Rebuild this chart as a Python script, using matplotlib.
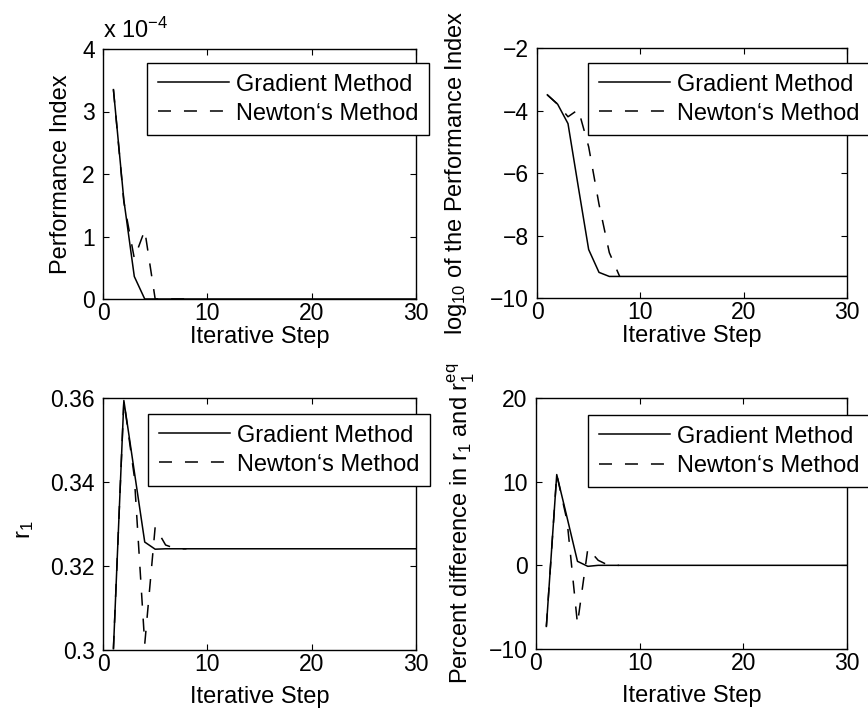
#!/usr/bin/env python3
"""Convergence of gradient and Newton iterations for the r1 estimate."""
import matplotlib
matplotlib.use("Agg")
import matplotlib.pyplot as plt
from matplotlib.ticker import FuncFormatter

plt.rcParams['font.family'] = ['Liberation Sans', 'DejaVu Sans']
plt.rcParams['mathtext.fontset'] = 'custom'
plt.rcParams['mathtext.rm'] = 'Liberation Sans'
plt.rcParams['mathtext.it'] = 'Liberation Sans'

# ── iteration history ───────────────────────────────────────────────────
steps_grad = list(range(1, 31))
steps_newton = list(range(1, 9))

perf_grad = [3.35e-4, 1.58e-4, 0.36e-4, 0.0] + [0.0] * 26
perf_newton = [3.35e-4, 1.55e-4, 0.65e-4, 1.10e-4, 0.0, 0.0, 0.0, 0.0]

logperf_grad = [-3.50, -3.80, -4.42, -6.45, -8.45, -9.18, -9.31] + [-9.31] * 23
logperf_newton = [-3.50, -3.80, -4.20, -3.97, -5.16, -7.00, -8.55, -9.31]

r1_grad = [0.3003, 0.3594, 0.3425, 0.3257, 0.3240] + [0.3241] * 25
r1_newton = [0.3003, 0.3594, 0.3413, 0.3014, 0.3293, 0.3250, 0.3241, 0.3241]

pct_grad = [-7.3, 10.85, 5.7, 0.48, -0.12] + [0.0] * 25
pct_newton = [-7.3, 10.85, 5.3, -7.0, 2.0, 0.6, 0.0, 0.0]

LABELS = ["Gradient Method", "Newton\u2018s Method"]
FS = 17
TICK_FS = 16.5


def style_axis(ax, ylim, yticks, xlab_y):
    ax.set_xlim(0, 30)
    ax.set_ylim(*ylim)
    ax.set_xticks([0, 10, 20, 30])
    ax.set_yticks(yticks)
    ax.tick_params(direction='in', top=True, right=True, length=4,
                   width=0.8, labelsize=TICK_FS)
    ax.tick_params(axis='x', pad=2)
    ax.tick_params(axis='y', pad=6)
    for s in ax.spines.values():
        s.set_linewidth(1.0)
        s.set_color('black')
    ax.set_xlabel("Iterative Step", fontsize=FS)
    ax.xaxis.set_label_coords(0.5, xlab_y)


def draw(ax, xg, yg, xn, yn, anchor):
    ax.plot(xg, yg, color='black', lw=1.1, ls='-', label=LABELS[0])
    ax.plot(xn, yn, color='black', lw=1.1, ls=(0, (8.5, 8.5)), label=LABELS[1])
    leg = ax.legend(loc='upper right', bbox_to_anchor=anchor, fontsize=FS,
                    fancybox=False, framealpha=1, edgecolor='black',
                    handlelength=3.0, handletextpad=0.3, borderpad=0.45,
                    labelspacing=0.3, borderaxespad=0)
    leg.get_frame().set_linewidth(1.0)


fig = plt.figure(figsize=(8.68, 7.08), dpi=100)
W, H = 868, 708


def place(x0, x1, y0, y1):
    return fig.add_axes([x0 / W, 1 - y1 / H, (x1 - x0) / W, (y1 - y0) / H])


ax1 = place(103, 416, 49, 299)
ax2 = place(537, 847, 48, 298)
ax3 = place(103, 416, 398, 650)
ax4 = place(536, 847, 398, 649)

# performance index (linear, scaled by 1e-4)
draw(ax1, steps_grad, perf_grad, steps_newton, perf_newton, (1.042, 0.944))
style_axis(ax1, (0, 4e-4), [0, 1e-4, 2e-4, 3e-4, 4e-4], -0.106)
ax1.yaxis.set_major_formatter(FuncFormatter(lambda v, _: f"{v / 1e-4:g}"))
ax1.text(0.0, 1.025, r"x 10$^{-4}$", transform=ax1.transAxes,
         fontsize=FS, ha='left', va='bottom')
ax1.set_ylabel("Performance Index", fontsize=FS)
ax1.yaxis.set_label_coords(-0.1, 0.5)

# log10 of the performance index
draw(ax2, steps_grad, logperf_grad, steps_newton, logperf_newton, (1.074, 0.94))
style_axis(ax2, (-10, -2), [-10, -8, -6, -4, -2], -0.106)
ax2.yaxis.set_major_formatter(FuncFormatter(lambda v, _: f"\u2212{abs(v):g}"))
ax2.set_ylabel(r"log$_{10}$ of the Performance Index", fontsize=FS)
ax2.yaxis.set_label_coords(-0.22, 0.5)

# r1 trajectory
draw(ax3, steps_grad, r1_grad, steps_newton, r1_newton, (1.045, 0.937))
style_axis(ax3, (0.30, 0.36), [0.30, 0.32, 0.34, 0.36], -0.143)
ax3.yaxis.set_major_formatter(FuncFormatter(lambda v, _: f"{v:.2f}".rstrip('0')))
ax3.set_ylabel(r"r$_1$", fontsize=FS)
ax3.yaxis.set_label_coords(-0.215, 0.476)

# percent difference from equilibrium
draw(ax4, steps_grad, pct_grad, steps_newton, pct_newton, (1.074, 0.932))
style_axis(ax4, (-10, 20), [-10, 0, 10, 20], -0.143)
ax4.yaxis.set_major_formatter(FuncFormatter(
    lambda v, _: f"\u2212{abs(v):g}" if v < 0 else f"{v:g}"))
ax4.set_ylabel(r"Percent difference in r$_1$ and r$_1^{eq}$", fontsize=FS)
ax4.yaxis.set_label_coords(-0.19, 0.5)

fig.savefig("out.png", dpi=100, facecolor='white')
